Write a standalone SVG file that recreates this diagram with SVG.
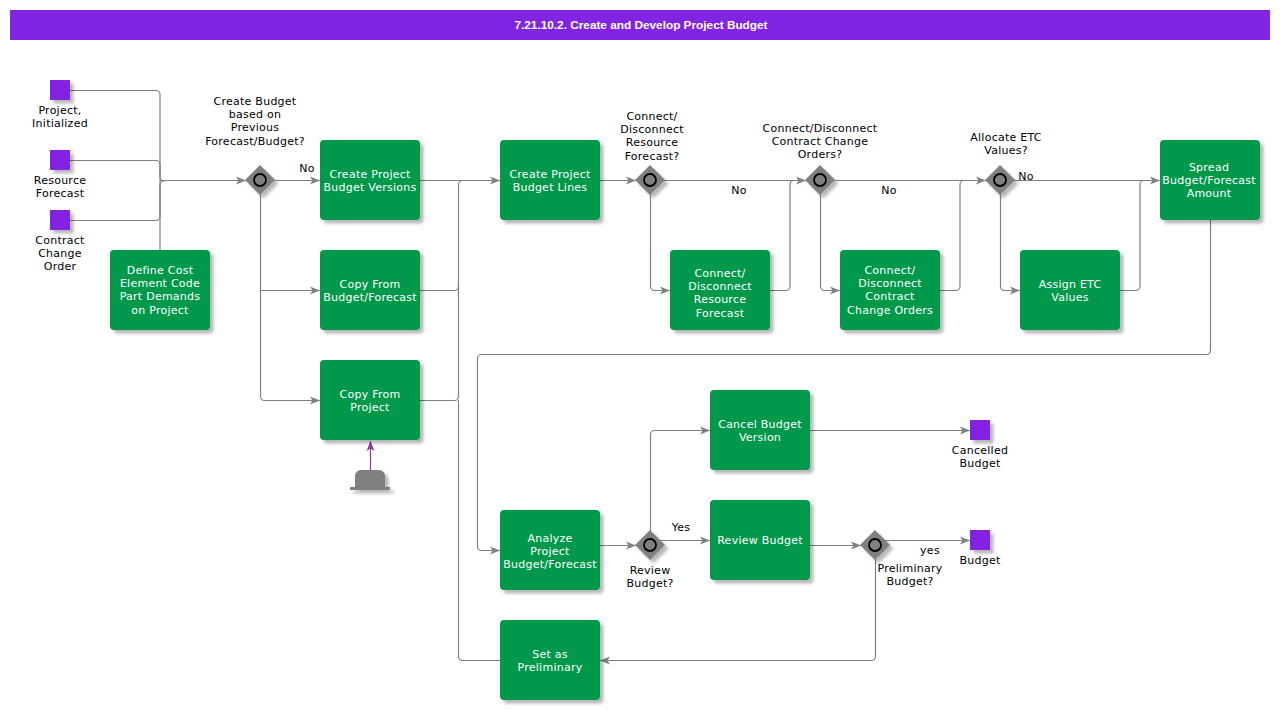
<svg xmlns="http://www.w3.org/2000/svg" width="1280" height="710" viewBox="0 0 1280 710">
<style>
text{font-family:"DejaVu Sans",Verdana,sans-serif;font-size:11px;letter-spacing:.25px;text-anchor:middle;fill:#000}
.w{fill:#fff}
.t{font-family:"Liberation Sans",Arial,sans-serif;font-size:11.8px;letter-spacing:0;font-weight:bold;fill:#fff}
.box{fill:#00994c;filter:url(#s)}
.ev{fill:#8224e3;filter:url(#s)}
.d{fill:#808080;filter:url(#s)}
.c{fill:none;stroke:#000;stroke-width:1.8}
.l{fill:none;stroke:#808080;stroke-width:1.2;marker-end:url(#a)}
.n{fill:none;stroke:#808080;stroke-width:1.2}
</style>
<defs>
<filter id="s" x="-25%" y="-25%" width="160%" height="160%"><feDropShadow dx="3.5" dy="3.5" stdDeviation="1.5" flood-color="#000" flood-opacity=".28"/></filter>
<marker id="a" markerUnits="userSpaceOnUse" markerWidth="11" markerHeight="10" refX="10" refY="5" orient="auto"><path d="M0 1L10 5L0 9L2.5 5Z" fill="#808080"/></marker>
<marker id="p" markerUnits="userSpaceOnUse" markerWidth="11" markerHeight="10" refX="10" refY="5" orient="auto"><path d="M0 1L10 5L0 9L2.5 5Z" fill="#8a3c96"/></marker>
</defs>
<g id="title"><rect x="10" y="10" width="1260" height="30" fill="#8224e3"/><text class="t" x="641" y="29">7.21.10.2. Create and Develop Project Budget</text></g>
<g id="connectors">
<path class="n" d="M70 90.500H156a4 4 0 0 1 4 4V250"/>
<path class="n" d="M70 160.500H156a4 4 0 0 1 4 4V177a4 4 0 0 0 4 4"/>
<path class="n" d="M70 220.500H156a4 4 0 0 0 4-4V185a4 4 0 0 1 4-4"/>
<path class="l" d="M160 180.500H246"/>
<path class="l" d="M274 180.500H320"/>
<path class="n" d="M260.500 194V396.500a4 4 0 0 0 4 4H320"/>
<path class="l" d="M260.500 290.500H320"/>
<path class="l" d="M310 400.500H320"/>
<path class="l" d="M420 180.500H500"/>
<path class="n" d="M420 290.500H454.500a4 4 0 0 0 4-4V184.500a4 4 0 0 1 4-4H470"/>
<path class="n" d="M420 400.500H454.500a4 4 0 0 0 4-4V286"/>
<path class="l" d="M600 180.500H636"/>
<path class="l" d="M664 180.500H806"/>
<path class="l" d="M650.500 194V286.500a4 4 0 0 0 4 4H670"/>
<path class="n" d="M770 290.500H786a4 4 0 0 0 4-4V184.500a4 4 0 0 1 4-4H800"/>
<path class="l" d="M834 180.500H986"/>
<path class="l" d="M820.500 194V286.500a4 4 0 0 0 4 4H840"/>
<path class="n" d="M940 290.500H956a4 4 0 0 0 4-4V184.500a4 4 0 0 1 4-4H970"/>
<path class="l" d="M1014 180.500H1160"/>
<path class="l" d="M1000.500 194V286.500a4 4 0 0 0 4 4H1020"/>
<path class="n" d="M1120 290.500H1136a4 4 0 0 0 4-4V184.500a4 4 0 0 1 4-4H1150"/>
<path class="l" d="M1210.500 220V350.500a4 4 0 0 1-4 4H481.500a4 4 0 0 0-4 4V546.500a4 4 0 0 0 4 4H500"/>
<path class="l" d="M600 545.500H636"/>
<path class="l" d="M650.500 531V434.500a4 4 0 0 1 4-4H710"/>
<path class="l" d="M660 540.500H710"/>
<path class="l" d="M810 430.500H970"/>
<path class="l" d="M810 545.500H861"/>
<path class="l" d="M885 540.500H970"/>
<path class="l" d="M875.500 559V656.500a4 4 0 0 1-4 4H600"/>
<path class="n" d="M500 660.500H462.500a4 4 0 0 1-4-4V400"/>
<path d="M370.500 470V441" fill="none" stroke="#8a3c96" stroke-width="1.2" marker-end="url(#p)"/>
</g>
<g id="e1"><rect class="ev" x="50" y="80" width="20" height="20"/><text x="60" y="114">Project,</text><text x="60" y="127">Initialized</text></g>
<g id="e2"><rect class="ev" x="50" y="150" width="20" height="20"/><text x="60" y="184">Resource</text><text x="60" y="197">Forecast</text></g>
<g id="e3"><rect class="ev" x="50" y="210" width="20" height="20"/><text x="60" y="244">Contract</text><text x="60" y="257">Change</text><text x="60" y="270">Order</text></g>
<g id="f0"><rect class="box" x="110" y="250" width="100" height="80" rx="4"/><text class="w" x="160" y="274">Define Cost</text><text class="w" x="160" y="287">Element Code</text><text class="w" x="160" y="300">Part Demands</text><text class="w" x="160" y="314">on Project</text></g>
<g id="g1"><path class="d" d="M260 165L275 180L260 195L245 180Z"/><circle class="c" cx="260" cy="180" r="6"/><text x="255" y="105">Create Budget</text><text x="255" y="118">based on</text><text x="255" y="131">Previous</text><text x="255" y="145">Forecast/Budget?</text><text x="307" y="172">No</text></g>
<g id="f1"><rect class="box" x="320" y="140" width="100" height="80" rx="4"/><text class="w" x="370" y="178">Create Project</text><text class="w" x="370" y="191">Budget Versions</text></g>
<g id="f2"><rect class="box" x="320" y="250" width="100" height="80" rx="4"/><text class="w" x="370" y="288">Copy From</text><text class="w" x="370" y="301">Budget/Forecast</text></g>
<g id="f3"><rect class="box" x="320" y="360" width="100" height="80" rx="4"/><text class="w" x="370" y="398">Copy From</text><text class="w" x="370" y="411">Project</text></g>
<g id="hat" filter="url(#s)"><path d="M355 488V476a6 6 0 0 1 6-6H379a6 6 0 0 1 6 6V488Z" fill="#808080"/><rect x="350" y="487" width="40" height="3" fill="#808080"/></g>
<g id="f4"><rect class="box" x="500" y="140" width="100" height="80" rx="4"/><text class="w" x="550" y="178">Create Project</text><text class="w" x="550" y="191">Budget Lines</text></g>
<g id="g2"><path class="d" d="M650 165L665 180L650 195L635 180Z"/><circle class="c" cx="650" cy="180" r="6"/><text x="652" y="120">Connect/</text><text x="652" y="133">Disconnect</text><text x="652" y="146">Resource</text><text x="652" y="160">Forecast?</text><text x="739" y="194">No</text></g>
<g id="f5"><rect class="box" x="670" y="250" width="100" height="80" rx="4"/><text class="w" x="720" y="277">Connect/</text><text class="w" x="720" y="290">Disconnect</text><text class="w" x="720" y="303">Resource</text><text class="w" x="720" y="317">Forecast</text></g>
<g id="g3"><path class="d" d="M820 165L835 180L820 195L805 180Z"/><circle class="c" cx="820" cy="180" r="6"/><text x="820" y="132">Connect/Disconnect</text><text x="820" y="145">Contract Change</text><text x="820" y="158">Orders?</text><text x="889" y="194">No</text></g>
<g id="f6"><rect class="box" x="840" y="250" width="100" height="80" rx="4"/><text class="w" x="890" y="274">Connect/</text><text class="w" x="890" y="287">Disconnect</text><text class="w" x="890" y="300">Contract</text><text class="w" x="890" y="314">Change Orders</text></g>
<g id="g4"><path class="d" d="M1000 165L1015 180L1000 195L985 180Z"/><circle class="c" cx="1000" cy="180" r="6"/><text x="1006" y="141">Allocate ETC</text><text x="1006" y="154">Values?</text><text x="1026" y="180">No</text></g>
<g id="f7"><rect class="box" x="1020" y="250" width="100" height="80" rx="4"/><text class="w" x="1070" y="288">Assign ETC</text><text class="w" x="1070" y="301">Values</text></g>
<g id="f8"><rect class="box" x="1160" y="140" width="100" height="80" rx="4"/><text class="w" x="1209" y="171">Spread</text><text class="w" x="1209" y="184">Budget/Forecast</text><text class="w" x="1209" y="197">Amount</text></g>
<g id="f9"><rect class="box" x="710" y="390" width="100" height="80" rx="4"/><text class="w" x="760" y="428">Cancel Budget</text><text class="w" x="760" y="441">Version</text></g>
<g id="e4"><rect class="ev" x="970" y="420" width="20" height="20"/><text x="980" y="454">Cancelled</text><text x="980" y="467">Budget</text></g>
<g id="f10"><rect class="box" x="500" y="510" width="100" height="80" rx="4"/><text class="w" x="550" y="542">Analyze</text><text class="w" x="550" y="555">Project</text><text class="w" x="550" y="568">Budget/Forecast</text></g>
<g id="g5"><path class="d" d="M650 530L665 545L650 560L635 545Z"/><circle class="c" cx="650" cy="545" r="6"/><text x="650" y="574">Review</text><text x="650" y="587">Budget?</text><text x="681" y="531">Yes</text></g>
<g id="f11"><rect class="box" x="710" y="500" width="100" height="80" rx="4"/><text class="w" x="760" y="544">Review Budget</text></g>
<g id="g6"><path class="d" d="M875 530L890 545L875 560L860 545Z"/><circle class="c" cx="875" cy="545" r="6"/><text x="910" y="572">Preliminary</text><text x="910" y="585">Budget?</text><text x="930" y="554">yes</text></g>
<g id="e5"><rect class="ev" x="970" y="530" width="20" height="20"/><text x="980" y="564">Budget</text></g>
<g id="f12"><rect class="box" x="500" y="620" width="100" height="80" rx="4"/><text class="w" x="550" y="658">Set as</text><text class="w" x="550" y="671">Preliminary</text></g>
</svg>
